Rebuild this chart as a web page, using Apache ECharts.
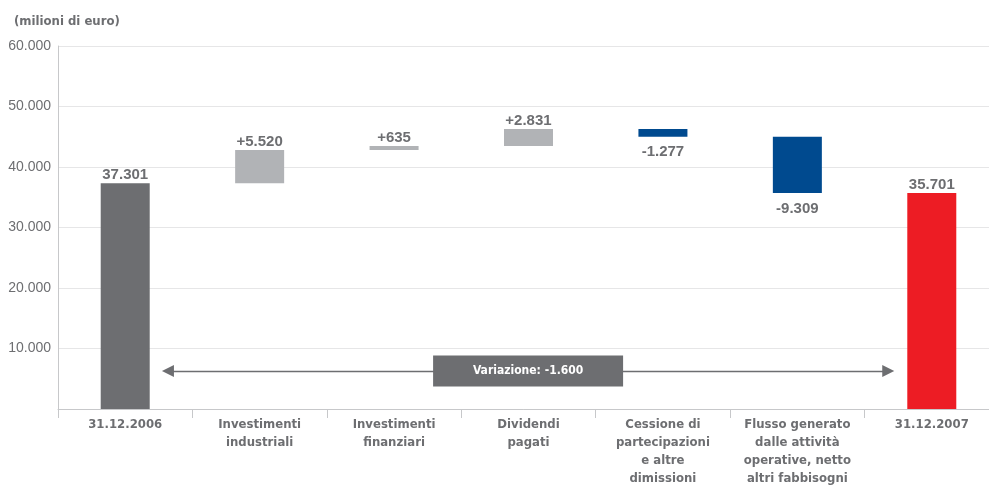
<!DOCTYPE html>
<html>
<head>
<meta charset="utf-8">
<script src="https://cdn.jsdelivr.net/npm/echarts@6/dist/echarts.min.js"></script>
<style>
  html, body { margin: 0; padding: 0; background: #fff; }
  #chart { width: 989px; height: 487px; }
</style>
</head>
<body>
<div id="chart"></div>
<script>
const categories = [
  '31.12.2006',
  'Investimenti\nindustriali',
  'Investimenti\nfinanziari',
  'Dividendi\npagati',
  'Cessione di\npartecipazioni\ne altre\ndimissioni',
  'Flusso generato\ndalle attività\noperative, netto\naltri fabbisogni',
  '31.12.2007'
];
const changes = [37301, 5520, 635, 2831, -1277, -9309, 35701];
const barKinds = ['total', 'up', 'up', 'up', 'down', 'down', 'final'];
const yTicks = [0, 10000, 20000, 30000, 40000, 50000, 60000];
const unitLabel = '(milioni di euro)';
const variationLabel = 'Variazione: -1.600';
const variationLevel = 6300;

const GREY = '#6d6e71';
const kindColor = { total: '#6d6e71', up: '#b1b3b6', down: '#004a8f', final: '#ed1c24' };
const COND = "'DejaVu Sans Condensed', 'DejaVu Sans', sans-serif";
const SANS = "'Liberation Sans', Arial, sans-serif";

function fmt(n) {
  return String(Math.round(n)).replace(/\B(?=(\d{3})+(?!\d))/g, '.');
}

// waterfall: invisible base + visible step
const baseData = [];
const stepData = [];
let running = 0;
changes.forEach((v, i) => {
  const kind = barKinds[i];
  let base, h, text, pos;
  if (kind === 'total' || kind === 'final') {
    base = 0; h = v; running = v; text = fmt(v); pos = 'top';
  } else if (kind === 'up') {
    base = running; h = v; running += v; text = '+' + fmt(v); pos = 'top';
  } else {
    running += v; base = running; h = -v; text = '-' + fmt(-v); pos = 'bottom';
  }
  baseData.push(base);
  stepData.push({
    value: h,
    itemStyle: { color: kindColor[kind] },
    label: { position: pos, formatter: text, distance: pos === 'top' ? 1 : 8 }
  });
});

const chart = echarts.init(document.getElementById('chart'), null, { renderer: 'canvas' });
chart.setOption({
  animation: false,
  title: {
    text: unitLabel,
    left: 9,
    top: 10,
    textStyle: { fontFamily: COND, fontWeight: 'bold', fontSize: 13, color: GREY }
  },
  grid: { left: 58, top: 46, width: 941, bottom: 78, containLabel: false, outerBoundsMode: 'none' },
  xAxis: [
    {
      type: 'category',
      data: categories,
      axisLine: { lineStyle: { color: '#c7c8ca', width: 1 } },
      axisTick: { show: true, length: 9, alignWithLabel: false, lineStyle: { color: '#c7c8ca' } },
      axisLabel: {
        interval: 0, margin: 7, color: GREY, fontFamily: COND, fontWeight: 'bold',
        fontSize: 13, lineHeight: 18, verticalAlign: 'top'
      }
    },
    { type: 'value', min: 0, max: 7, show: false }
  ],
  yAxis: {
    type: 'value',
    min: yTicks[0],
    max: yTicks[yTicks.length - 1],
    interval: yTicks[1] - yTicks[0],
    axisLine: { show: true, lineStyle: { color: '#c7c8ca', width: 1 } },
    axisTick: { show: false },
    splitLine: { lineStyle: { color: '#e6e6e7', width: 1 } },
    axisLabel: {
      margin: 7, color: GREY, fontFamily: SANS, fontSize: 14,
      formatter: v => (v === 0 ? '' : fmt(v))
    }
  },
  series: [
    {
      type: 'bar',
      stack: 'w',
      data: baseData,
      barWidth: 49,
      itemStyle: { color: 'transparent' },
      silent: true
    },
    {
      type: 'bar',
      stack: 'w',
      data: stepData,
      barWidth: 49,
      label: {
        show: true, color: GREY, fontFamily: SANS, fontWeight: 'bold', fontSize: 15
      }
    },
    {
      type: 'line',
      xAxisIndex: 1,
      data: [],
      markLine: {
        silent: true,
        symbol: ['triangle', 'triangle'],
        symbolSize: 12,
        lineStyle: { color: GREY, width: 1.3, type: 'solid' },
        label: {
          show: true,
          position: 'middle',
          formatter: variationLabel,
          color: '#fff',
          fontFamily: COND,
          fontWeight: 'bold',
          fontSize: 12,
          backgroundColor: GREY,
          width: 190,
          height: 31,
          lineHeight: 31,
          align: 'center',
          verticalAlign: 'middle',
          padding: 0,
          distance: 0
        },
        data: [[{ coord: [0.818, variationLevel] }, { coord: [6.176, variationLevel] }]]
      }
    }
  ]
});
</script>
</body>
</html>
